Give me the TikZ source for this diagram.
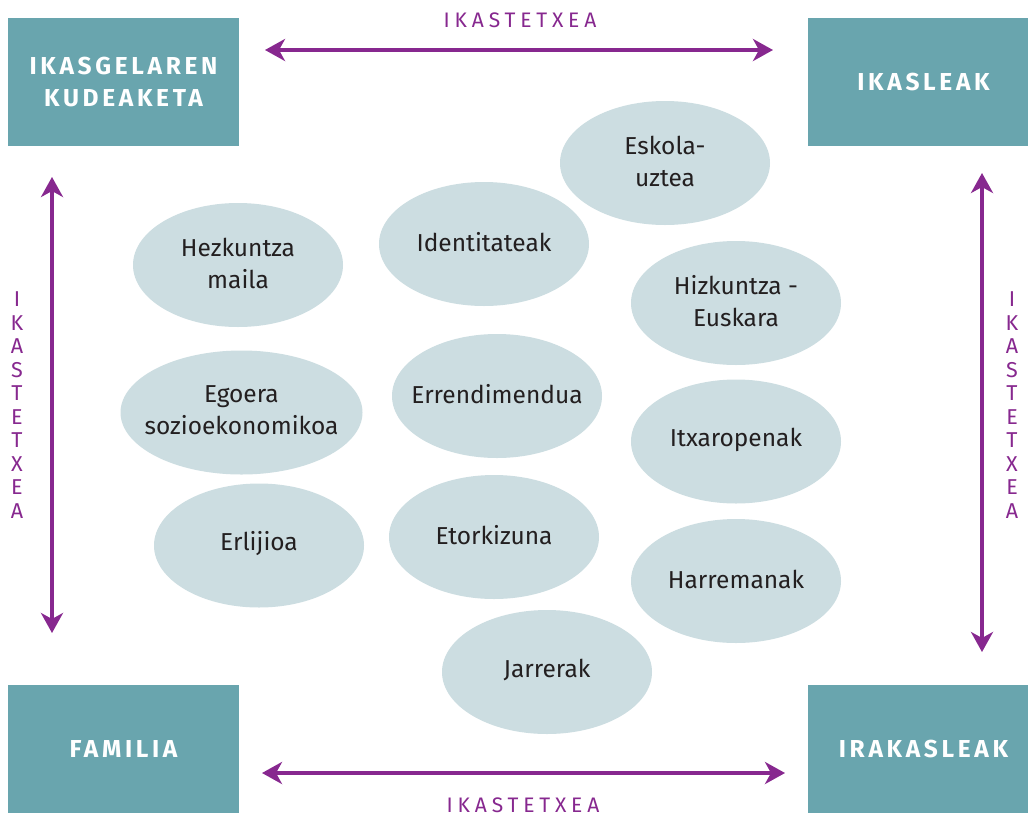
\documentclass[tikz,border=0pt]{standalone}
\usepackage{fontspec}
\setmainfont{Fira Sans}
\newfontfamily\capsfont[LetterSpace=15]{Fira Sans}
\newfontfamily\purplefont[LetterSpace=23]{Fira Sans}
\usetikzlibrary{shapes.geometric,arrows.meta}
\definecolor{boxteal}{HTML}{69A5AE}
\definecolor{ellfill}{HTML}{CCDDE1}
\definecolor{arrpurple}{HTML}{87288F}
\definecolor{txtdark}{HTML}{231F20}
\begin{document}
\begin{tikzpicture}[x=1pt,y=-1pt,
  hbox/.style={fill=boxteal, draw=none, minimum width=231pt, minimum height=128pt, inner sep=0pt,
    text=white, align=center, font=\capsfont\bfseries\fontsize{24.5}{32}\selectfont},
  ell/.style={ellipse, fill=ellfill, draw=none, minimum width=210pt, minimum height=124pt, inner sep=0pt},
  etext/.style={text=txtdark, align=center, inner sep=0pt, yshift=2pt, font=\fontsize{24.5}{32}\selectfont},
  dbl/.style={arrpurple, line width=3.5pt, {Stealth[length=20pt,width=22pt,inset=6pt]}-{Stealth[length=20pt,width=22pt,inset=6pt]}},
  lbl/.style={text=arrpurple, font=\purplefont\fontsize{21}{23.5}\selectfont, inner sep=0pt, align=center}
]
\useasboundingbox (0,0) rectangle (1028,817);
\fill[white] (0,0) rectangle (1028,817);

% corner boxes
\node[hbox] (kud) at (123.5,82) {IKASGELAREN\\KUDEAKETA};
\node[hbox] (ikas) at (923.5,82) {IKASLEAK};
\node[hbox] (fam) at (123.5,748.5) {FAMILIA};
\node[hbox] (irak) at (923.5,749) {IRAKASLEAK};

% ellipses
\node[ell, label={[etext]center:Eskola-\\uztea}] (esk) at (665,163) {};
\node[ell, label={[etext]center:Hezkuntza\\maila}] (hez) at (238,265) {};
\node[ell, label={[etext]center:Identitateak}] (ide) at (484,244) {};
\node[ell, label={[etext]center:Hizkuntza -\\Euskara}] (hiz) at (736,303) {};
\node[ell, minimum width=242pt, label={[etext]center:Egoera\\sozioekonomikoa}] (ego) at (241.5,412.5) {};
\node[ell, label={[etext]center:Errendimendua}] (err) at (497,396) {};
\node[ell, label={[etext]center:Itxaropenak}] (itx) at (736,441.5) {};
\node[ell, label={[etext]center:Erlijioa}] (erl) at (259,545.5) {};
\node[ell, label={[etext]center:Etorkizuna}] (eto) at (494,537) {};
\node[ell, label={[etext]center:Harremanak}] (har) at (736,581) {};
\node[ell, label={[etext]center:Jarrerak}] (jar) at (547,672) {};

% arrows
\coordinate (tL) at (265,50);  \coordinate (tR) at (773,50);
\coordinate (bL) at (262,773); \coordinate (bR) at (785,773);
\coordinate (lT) at (52,177);  \coordinate (lB) at (52,633);
\coordinate (rT) at (982,173); \coordinate (rB) at (982,652);
\draw[dbl] (tL) -- (tR);
\draw[dbl] (bL) -- (bR);
\draw[dbl] (lT) -- (lB);
\draw[dbl] (rT) -- (rB);

% labels
\node[lbl] (ltop) at (520,20) {IKASTETXEA};
\node[lbl] (lbot) at (523,805) {IKASTETXEA};
\node[lbl, font=\fontsize{21.5}{23.5}\selectfont] (lleft) at (17,405) {I\\K\\A\\S\\T\\E\\T\\X\\E\\A};
\node[lbl, font=\fontsize{21.5}{23.5}\selectfont] (lright) at (1012,405) {I\\K\\A\\S\\T\\E\\T\\X\\E\\A};
\end{tikzpicture}
\end{document}
